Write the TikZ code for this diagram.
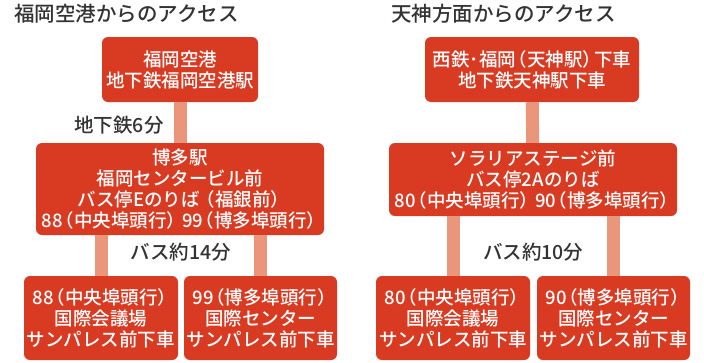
\documentclass[tikz,border=0pt]{standalone}
\usepackage{fontspec}
\setmainfont{Noto Sans CJK JP}
\newfontfamily\jpmed[RawFeature=+halt]{Noto Sans CJK JP Medium}
\usepackage{xcolor}
\usepackage{tikz}
\usetikzlibrary{positioning, calc}

\definecolor{boxred}{HTML}{D83A22}
\definecolor{barpink}{HTML}{E9967A}
\definecolor{inkgray}{HTML}{333333}
% narrow brackets with a little air outside
\newcommand{\lb}{\kern2pt（}
\newcommand{\rb}{）\kern2pt}

\begin{document}
\begin{tikzpicture}[x=1pt, y=-1pt,
    stop/.style={fill=boxred, rounded corners=6pt, text=white, align=center, inner sep=0pt,
        font=\jpmed\fontsize{18.5}{21}\selectfont},
    route/.style={draw=barpink, line width=13pt},
    time/.style={text=inkgray, inner sep=0pt, font=\jpmed\fontsize{19.5}{22}\selectfont},
    head/.style={text=inkgray, inner sep=0pt, anchor=west, font=\jpmed\fontsize{20.5}{24}\selectfont}]
        \useasboundingbox (0,0) rectangle (704,362);
        % from the airport
        \node[head] (t1) at (14,14) {福岡空港からのアクセス};
        \node[stop, minimum width=156pt, minimum height=65pt] (1) at (180,69.5) {福岡空港\\地下鉄福岡空港駅};
        \node[stop, minimum width=288pt, minimum height=92pt] (2) at (180,189) {博多駅\\福岡センタービル前\\バス停Eのりば \lb 福銀前\rb\\88\lb 中央埠頭行\rb\hspace{4pt}99\lb 博多埠頭行\rb};
        \node[stop, minimum width=154pt, minimum height=84pt] (3) at (101,318) {88\lb 中央埠頭行\rb\\国際会議場\\サンパレス前下車};
        \node[stop, minimum width=153pt, minimum height=84pt] (4) at (260.5,318) {99\lb 博多埠頭行\rb\\国際センター\\サンパレス前下車};
        % from tenjin
        \node[head] (t2) at (391,14) {天神方面からのアクセス};
        \node[stop, minimum width=214pt, minimum height=65pt] (5) at (532,69.5) {西鉄･福岡\lb 天神駅\rb 下車\\地下鉄天神駅下車};
        \node[stop, minimum width=288pt, minimum height=73pt] (6) at (533,179.5) {ソラリアステージ前\\バス停2Aのりば\\80\lb 中央埠頭行\rb\hspace{4pt}90\lb 博多埠頭行\rb};
        \node[stop, minimum width=154pt, minimum height=84pt] (7) at (453,318) {80\lb 中央埠頭行\rb\\国際会議場\\サンパレス前下車};
        \node[stop, minimum width=153pt, minimum height=84pt] (8) at (613.5,318) {90\lb 博多埠頭行\rb\\国際センター\\サンパレス前下車};
        \draw
        (1) edge[route] node[time, left=10pt, yshift=-3pt] {地下鉄6分} (2)
        (3.north) edge[route] (3.north |- 2.south)
        (4.north) edge[route] (4.north |- 2.south)

        (5) edge[route] (6)
        (7.north) edge[route] (7.north |- 6.south)
        (8.north) edge[route] (8.north |- 6.south)
        ;
        \path (3.north) -- node[time, above=14pt] {バス約14分} (4.north);
        \path (7.north) -- node[time, above=14pt] {バス約10分} (8.north);
    \end{tikzpicture}
\end{document}
